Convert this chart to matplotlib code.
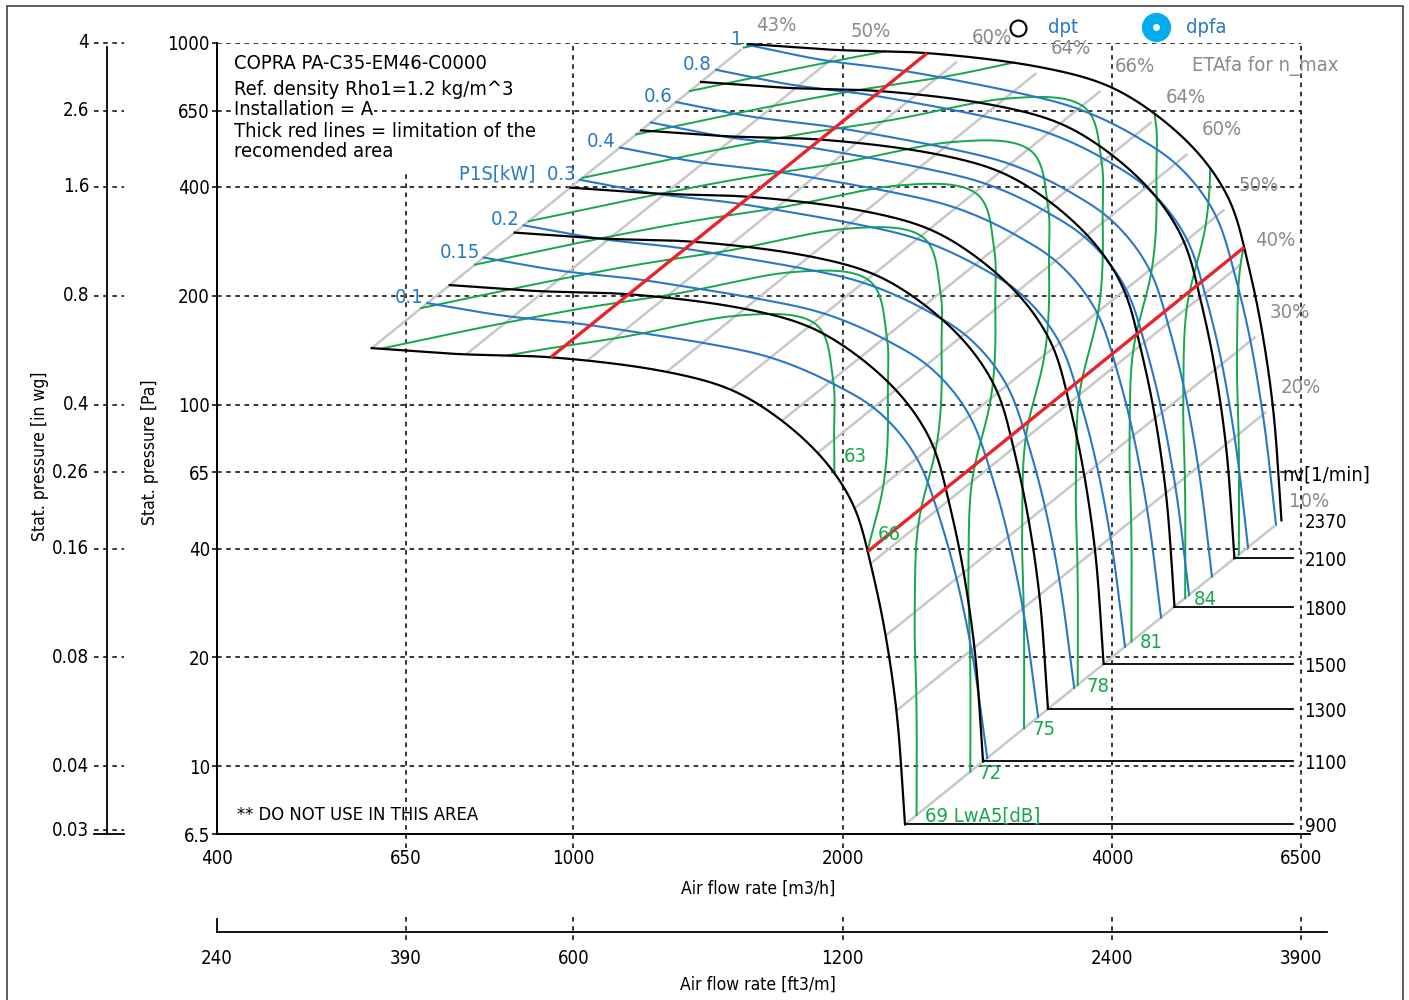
import os
import numpy as np
import matplotlib
matplotlib.use("Agg")
import matplotlib.pyplot as plt
from matplotlib import font_manager
from matplotlib.patches import Rectangle
from matplotlib.ticker import NullLocator

# ---- values ----
N_MAX = 2370
SPEEDS = [900, 1100, 1300, 1500, 1800, 2100, 2370]

# fan curve at n_max (traced)
CURVE_Q = [1568, 1971, 2486, 3324, 3949, 4444, 4929, 5241, 5460, 5662, 5855, 6051, 6181]
CURVE_P = [994, 956, 938, 858, 765, 643, 514, 424, 350, 250, 170, 97.5, 47.9]

# where each efficiency line meets the n_max curve
ETA_Q = [1570, 2000, 2730, 3350, 3950, 4560, 4970, 5380, 5680, 5930, 6070, 6180]
ETA_P = [994, 962, 914, 863, 765, 652, 518, 355, 253, 160, 99, 47]
ETA_LABELS = ["43%", "50%", "60%", "64%", "66%", "64%", "60%", "50%", "40%", "30%", "20%", "10%"]

# shaft power lines P1S [kW]; speed giving 1 kW at each efficiency line
POWER = [0.1, 0.15, 0.2, 0.3, 0.4, 0.5, 0.6, 0.8, 1.0]
POWER_LABELS = ["0.1", "0.15", "0.2", "P1S[kW]  0.3", "0.4", "", "0.6", "0.8", "1"]
N_1KW = [2364, 2290, 2220, 2195, 2200, 2230, 2260, 2280, 2290, 2300, 2310, 2337]
POWER_EXP = [2.8, 3.1]   # power ~ n^k, left end / right end

# sound power lines LwA5 [dB]; speed of the 84 dB line at each efficiency line
LWA = [63, 66, 69, 72, 75, 78, 81, 84, 87]
LWA_LABELS = ["63", "66", "69 LwA5[dB]", "72", "75", "78", "81", "84", ""]
N_84DB = [2040, 2280, 2540, 2830, 2930, 2700, 2470, 2220, 2030, 1935, 1890, 1850]

# limits of the recommended area (position between efficiency lines)
RED_S = [1.68, 7.8]

PA_TICKS = [1000, 650, 400, 200, 100, 65, 40, 20, 10, 6.5]
PA_LABELS = ["1000", "650", "400", "200", "100", "65", "40", "20", "10", "6.5"]
INWG_LABELS = ["4", "2.6", "1.6", "0.8", "0.4", "0.26", "0.16", "0.08", "0.04", "0.03"]
Q_TICKS = [400, 650, 1000, 2000, 4000, 6500]
CFM_LABELS = ["240", "390", "600", "1200", "2400", "3900"]

BLACK = "black"
BLUE = "#2878c8"
GREEN = "#14a84a"
RED = "#e8232a"
GREY = "#c8c8c8"
GREY_T = "#8a8a8a"


def pick_font():
    # narrow fonts first, the chart uses a condensed face
    cands = [("Liberation Sans Narrow", "normal", None, 1.0),
             ("Noto Sans Condensed", "normal", None, 1.0),
             ("Noto Sans", "condensed", "ondensed", 1.0),
             ("DejaVu Sans Condensed", "normal", None, 0.84),
             ("DejaVu Sans", "condensed", "ondensed", 0.84),
             ("Liberation Sans", "normal", None, 0.87)]
    for fam, stretch, tag, kk in cands:
        try:
            path = font_manager.findfont(
                font_manager.FontProperties(family=fam, stretch=stretch),
                fallback_to_default=False)
        except ValueError:
            continue
        if tag and tag not in os.path.basename(path):
            continue
        return fam, stretch, kk
    return "DejaVu Sans", "normal", 0.76


FONT, STRETCH, k = pick_font()
plt.rcParams["font.family"] = [FONT, "DejaVu Sans"]
plt.rcParams["font.stretch"] = STRETCH
FS = 16 * k          # tick labels, speeds
FS_L = 17.3 * k      # curve labels, header
FS_AX = 15 * k       # axis titles
FS_NOTE = 15.8 * k


def catmull_rom(px, py, per=200):
    P = np.column_stack([px, py]).astype(float)
    P = np.vstack([2 * P[0] - P[1], P, 2 * P[-1] - P[-2]])
    xs, ys = [], []
    for i in range(1, len(P) - 2):
        p0, p1, p2, p3 = P[i - 1], P[i], P[i + 1], P[i + 2]
        t0 = 0.0
        t1 = t0 + np.linalg.norm(p1 - p0) ** 0.5
        t2 = t1 + np.linalg.norm(p2 - p1) ** 0.5
        t3 = t2 + np.linalg.norm(p3 - p2) ** 0.5
        t = np.linspace(t1, t2, per, endpoint=False)[:, None]
        a1 = (t1 - t) / (t1 - t0) * p0 + (t - t0) / (t1 - t0) * p1
        a2 = (t2 - t) / (t2 - t1) * p1 + (t - t1) / (t2 - t1) * p2
        a3 = (t3 - t) / (t3 - t2) * p2 + (t - t2) / (t3 - t2) * p3
        b1 = (t2 - t) / (t2 - t0) * a1 + (t - t0) / (t2 - t0) * a2
        b2 = (t3 - t) / (t3 - t1) * a2 + (t - t1) / (t3 - t1) * a3
        c = (t2 - t) / (t2 - t1) * b1 + (t - t1) / (t2 - t1) * b2
        xs.append(c[:, 0])
        ys.append(c[:, 1])
    xs.append([px[-1]])
    ys.append([py[-1]])
    return np.concatenate(xs), np.concatenate(ys)


def smooth_fn(vals, log=True):
    v = np.log10(vals) if log else np.asarray(vals, float)
    xs, ys = catmull_rom(np.arange(len(v), dtype=float), v)
    return lambda s: np.interp(s, xs, ys)


def smooth_curve(X, Y, n=3000, sigma=0.014):
    # resample by arc length and take the jitter of the tracing out
    d = np.hypot(np.diff(X), np.diff(Y))
    arc = np.concatenate([[0], np.cumsum(d)])
    a = np.linspace(0, arc[-1], n)
    xu, yu = np.interp(a, arc, X), np.interp(a, arc, Y)
    h = a[1] - a[0]
    m = int(4 * sigma / h)
    t = np.arange(1, m + 1)
    out = []
    for v in (xu, yu):
        d0 = (v[5] - v[0]) / 5
        d1 = (v[-1] - v[-6]) / 5
        pad = np.concatenate([v[0] - d0 * t[::-1], v, v[-1] + d1 * t])
        ker = np.exp(-0.5 * (np.arange(-m, m + 1) * h / sigma) ** 2)
        out.append(np.convolve(pad, ker / ker.sum(), mode="valid"))
    return a, out[0], out[1]


ASP = 0.4   # height of a decade of pressure / width of a decade of flow
Xc, Yc = catmull_rom(np.log10(CURVE_Q), ASP * np.log10(CURVE_P))
A_U, X_S, Y_S = smooth_curve(Xc, Yc)

ek_x, ek_y = np.log10(ETA_Q), ASP * np.log10(ETA_P)
a_k = np.array([A_U[np.argmin((X_S - x) ** 2 + (Y_S - y) ** 2)] for x, y in zip(ek_x, ek_y)])
a_k[0], a_k[-1] = 0.0, A_U[-1]
arc_fn = smooth_fn(a_k, log=False)

S_D = np.linspace(0, 11, 4000)
A_D = arc_fn(S_D)
LQ_D = np.interp(A_D, A_U, X_S)
LP_D = np.interp(A_D, A_U, Y_S) / ASP

n84_log = smooth_fn(N_84DB)
n1kw_log = smooth_fn(N_1KW)


def to_qp(s, n):
    lq = np.interp(s, S_D, LQ_D)
    lp = np.interp(s, S_D, LP_D)
    r = np.log10(np.asarray(n, float) / N_MAX)
    return 10 ** (lq + r), 10 ** (lp + 2 * r)


fig = plt.figure(figsize=(14.09, 10), dpi=100)
ax = fig.add_axes([217 / 1409, 1 - 834 / 1000, 1084 / 1409, 791 / 1000])
ax.set_xscale("log")
ax.set_yscale("log")
ax.set_xlim(400, 6500)
ax.set_ylim(6.5, 1000)
ax.set_xticks(Q_TICKS)
ax.set_xticklabels([str(q) for q in Q_TICKS])
ax.set_yticks(PA_TICKS)
ax.set_yticklabels(PA_LABELS)
ax.xaxis.set_minor_locator(NullLocator())
ax.yaxis.set_minor_locator(NullLocator())
ax.tick_params(axis="x", length=0, pad=11, labelsize=FS)
ax.tick_params(axis="y", length=3.6, width=1.1, pad=1.5, labelsize=FS)
for side in ["top", "right", "bottom"]:
    ax.spines[side].set_visible(False)
ax.spines["left"].set_linewidth(1.4)
ax.plot([400, 6650], [6.5, 6.5], color=BLACK, lw=1.4, clip_on=False, zorder=7)

# grid
dash = (0, (3, 3))
for p in PA_TICKS[:-1]:
    ax.plot([400, 6500], [p, p], color=BLACK, lw=1.1, ls=dash, zorder=0.5)
for q in Q_TICKS[1:]:
    top = 444 if q == 650 else 1000
    ax.plot([q, q], [5.95, top], color=BLACK, lw=1.1, ls=dash, zorder=0.5, clip_on=False)

s = np.linspace(0, 11, 4001)

# efficiency lines (system curves)
for i, lab in enumerate(ETA_LABELS):
    q, p = to_qp(np.array([i, i]), np.array([900, 2330]))
    ax.plot(q, p, color=GREY, lw=1.8, zorder=1, solid_capstyle="butt")
    ql, pl = to_qp(i, 2500)
    ax.annotate(lab, (ql, pl), xytext=(5, 1.5), textcoords="offset points", color=GREY_T,
                ha="center", va="center", fontsize=FS_L, zorder=2, annotation_clip=False)

# sound power lines
lo, hi = np.log10(900), np.log10(N_MAX)
for L, lab in zip(LWA, LWA_LABELS):
    ln = n84_log(s) + (L - 84) / 50
    ok = (ln >= lo) & (ln <= hi)
    q, p = to_qp(s, 10 ** np.where(ok, ln, np.nan))
    ax.plot(q, p, color=GREEN, lw=1.4, zorder=2)
    if lab:
        j = np.where(ok)[0][-1]
        off = (6, -1) if s[j] > 10.99 else (7, 12)
        ax.annotate(lab, (q[j], p[j]), xytext=off, textcoords="offset points",
                    ha="left", va="center", color=GREEN, fontsize=FS_L, zorder=8,
                    annotation_clip=False)

# power lines
kexp = np.interp(s, [0, 11], POWER_EXP)
for P, lab in zip(POWER, POWER_LABELS):
    n = 10 ** n1kw_log(s) * P ** (1 / kexp)
    q, p = to_qp(s, n)
    ax.plot(q, p, color=BLUE, lw=1.5, zorder=3)
    if lab:
        ax.annotate(lab, (q[0], p[0]), xytext=(-3, 4), textcoords="offset points",
                    ha="right", va="center", color=BLUE, fontsize=FS_L, zorder=8,
                    annotation_clip=False)

# speed curves
for n in SPEEDS:
    q, p = to_qp(s, n)
    ax.plot(q, p, color=BLACK, lw=1.6, zorder=4)
    if n != N_MAX:
        ax.plot([q[-1], 6370], [p[-1], p[-1]], color=BLACK, lw=1.3, zorder=4)
    else:
        ax.text(q[-1] * 1.003, p[-1] * 1.33, "nv[1/min]", ha="left", va="center",
                fontsize=FS_L, zorder=8)
    ax.text(6560, p[-1] * 0.985, str(n), ha="left", va="center", fontsize=FS, zorder=8)

# limits of recommended area
for sr in RED_S:
    q, p = to_qp(np.array([sr, sr]), np.array([900, 2370]))
    ax.plot(q, p, color=RED, lw=2.4, zorder=6, solid_capstyle="butt")

# in wg axis
ty = ax.get_yaxis_transform()
ax.plot([-0.1015, -0.1015], [6.5, 975], transform=ty, color=BLACK, lw=1.3, clip_on=False)
ax.plot([-0.1135, -0.0858], [6.5, 6.5], transform=ty, color=BLACK, lw=1.3, clip_on=False)
inwg_pos = PA_TICKS[:-1] + [6.65]
for p, lab in zip(inwg_pos, INWG_LABELS):
    ax.plot([-0.1135, -0.0858], [p, p], transform=ty, color=BLACK, lw=1.1,
            ls=dash, clip_on=False)
    ax.text(-0.118, p, lab, transform=ty, ha="right", va="center", fontsize=FS)
ax.text(-0.163, 0.477, "Stat. pressure [in wg]", transform=ax.transAxes, rotation=90,
        ha="center", va="center", fontsize=FS_AX)
ax.text(-0.062, 0.483, "Stat. pressure [Pa]", transform=ax.transAxes, rotation=90,
        ha="center", va="center", fontsize=FS_AX)

# ft3/m axis
tx = ax.get_xaxis_transform()
ax.plot([400, 6957], [-0.1239, -0.1239], transform=tx, color=BLACK, lw=1.3, clip_on=False)
ax.plot([400, 400], [-0.1239, -0.1075], transform=tx, color=BLACK, lw=1.3, clip_on=False)
for q, lab in zip(Q_TICKS, CFM_LABELS):
    if q != 400:
        ax.plot([q, q], [-0.105, -0.134], transform=tx, color=BLACK, lw=1.1,
                ls=dash, clip_on=False)
    ax.text(q, -0.157, lab, transform=tx, ha="center", va="center", fontsize=FS)
ax.text(0.499, -0.0695, "Air flow rate [m3/h]", transform=ax.transAxes,
        ha="center", va="center", fontsize=FS_AX)
ax.text(0.499, -0.191, "Air flow rate [ft3/m]", transform=ax.transAxes,
        ha="center", va="center", fontsize=FS_AX)

# header text
header = [("COPRA PA-C35-EM46-C0000", 0.9735), ("Ref. density Rho1=1.2 kg/m^3", 0.9418),
          ("Installation = A", 0.9153), ("Thick red lines = limitation of the", 0.8887),
          ("recomended area", 0.8622)]
for txt, y in header:
    ax.text(0.0157, y, txt, transform=ax.transAxes, ha="left", va="center", fontsize=FS_L,
            zorder=9, bbox=dict(boxstyle="square,pad=0.05", fc="white", ec="none"))
ax.text(0.0185, 0.024, "** DO NOT USE IN THIS AREA", transform=ax.transAxes,
        ha="left", va="center", fontsize=FS_NOTE)

# legend
ax.plot([0.739], [1.019], "o", transform=ax.transAxes, ms=11.5, mfc="white", mec=BLACK,
        mew=1.5, clip_on=False)
ax.text(0.780, 1.019, "dpt", transform=ax.transAxes, ha="center", va="center",
        color=BLUE, fontsize=FS_L)
ax.plot([0.866], [1.020], "o", transform=ax.transAxes, ms=20, mfc="#00aeef", mec="#00aeef",
        clip_on=False)
ax.plot([0.866], [1.020], "o", transform=ax.transAxes, ms=4, mfc="white", mec="white",
        clip_on=False)
ax.text(0.913, 1.019, "dpfa", transform=ax.transAxes, ha="center", va="center",
        color=BLUE, fontsize=FS_L)
ax.text(0.9668, 0.9709, "ETAfa for n_max", transform=ax.transAxes, ha="center",
        va="center", color=GREY_T, fontsize=FS_L)

fig.add_artist(Rectangle((7 / 1409, -0.01), 1396 / 1409, 1.004, transform=fig.transFigure,
                         fill=False, ec="#444444", lw=1.2))

fig.savefig("out.png", dpi=100)
